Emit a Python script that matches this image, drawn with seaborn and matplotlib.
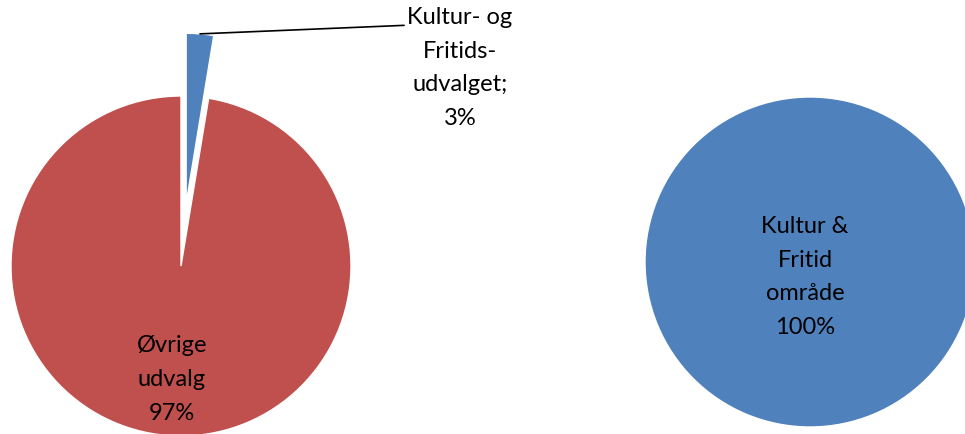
import numpy as np
import seaborn as sns
import matplotlib.pyplot as plt

# data
left_labels = ["Kultur- og\nFritids-\nudvalget;", "Øvrige\nudvalg"]
left_values = [2.6, 97.4]
right_labels = ["Kultur &\nFritid\nområde"]
right_values = [100]

blue = "#4F81BD"
red = "#C0504D"

sns.set_theme(style="white")
plt.rcParams['font.family'] = ['Lato', 'DejaVu Sans']

W, H = 965, 434
fig = plt.figure(figsize=(W / 100, H / 100), dpi=100)
ax = fig.add_axes([0, 0, 1, 1])

fs = 17
ls = 1.75

# left pie, 3% slice pulled out (explode is in data units here)
c_left = (181, H - 266)
r_left = 170
wedges, _ = ax.pie(left_values, colors=[blue, red], startangle=90, counterclock=False,
                   explode=[0.37 * r_left, 0], center=c_left, radius=r_left,
                   wedgeprops=dict(edgecolor="white", linewidth=1))

pct = [v / sum(left_values) * 100 for v in left_values]

# label on the big slice
w = wedges[1]
mid = np.deg2rad((w.theta1 + w.theta2) / 2)
lx = w.center[0] + 0.67 * w.r * np.cos(mid)
ly = w.center[1] + 0.67 * w.r * np.sin(mid)
ax.text(lx, ly, f"{left_labels[1]}\n{pct[1]:.0f}%", ha="center", va="center",
        fontsize=fs, color="black", linespacing=ls)

# leader-line label on the small slice
w = wedges[0]
mid = np.deg2rad((w.theta1 + w.theta2) / 2)
px = w.center[0] + w.r * np.cos(mid)
py = w.center[1] + w.r * np.sin(mid)
ax.annotate(f"{left_labels[0]}\n{pct[0]:.0f}%", xy=(px, py), xytext=(460, H - 68),
            ha="center", va="center", fontsize=fs, color="black", linespacing=ls,
            arrowprops=dict(arrowstyle="-", color="black", lw=1.2,
                            relpos=(0.0, 0.85), shrinkA=0, shrinkB=0))

# right pie
c_right = (810, H - 262)
r_right = 165
wedges_r, _ = ax.pie(right_values, colors=[blue], startangle=90, counterclock=False,
                     center=c_right, radius=r_right)
ax.text(c_right[0] - 5, c_right[1] - 15, f"{right_labels[0]}\n{right_values[0]}%",
        ha="center", va="center", fontsize=fs, color="black", linespacing=ls)

ax.set_xlim(0, W)
ax.set_ylim(0, H)
ax.set_aspect("equal")
ax.axis("off")

fig.savefig("out.png", dpi=100)
